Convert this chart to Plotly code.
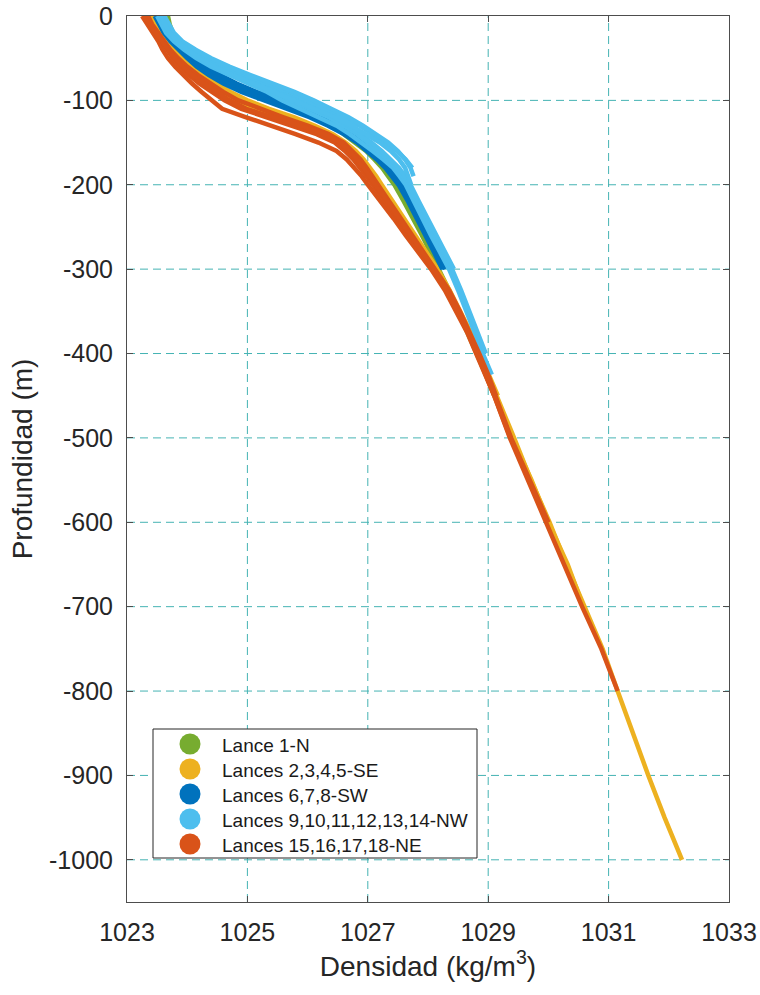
import plotly.graph_objects as go

# ---------------- data ----------------
DEPTH = [0, -10, -20, -30, -40, -50, -60, -70, -80, -90, -100, -110, -120, -130, -140,
         -150, -160, -170, -180, -190, -200, -220, -240, -260, -280, -300, -325, -350,
         -375, -400, -425, -450, -500, -550, -600, -650, -700, -750, -800, -850, -900,
         -950, -1000]

# Lance 1 - N
N1 = [1023.68, 1023.71, 1023.76, 1023.86, 1024.04, 1024.3, 1024.6, 1024.92, 1025.25, 1025.62,
      1026.08, 1026.24, 1026.33, 1026.42, 1026.6, 1026.8, 1026.97, 1027.11, 1027.24, 1027.34,
      1027.44, 1027.6, 1027.76, 1027.9, 1028.04, 1028.18, 1028.35, 1028.5, 1028.66, 1028.81,
      1028.96, 1029.1]

# Lances 2,3,4,5 - SE
SE2 = [1023.4, 1023.47, 1023.57, 1023.67, 1023.78, 1023.9, 1024.05, 1024.22, 1024.42, 1024.64,
       1024.9, 1025.24, 1025.64, 1026.04, 1026.38, 1026.6, 1026.77, 1026.9, 1027.01, 1027.11,
       1027.2, 1027.39, 1027.57, 1027.76, 1027.95, 1028.14, 1028.34, 1028.52, 1028.69, 1028.85,
       1029.0, 1029.15, 1029.43, 1029.71, 1030.02, 1030.3, 1030.6, 1030.9, 1031.15, 1031.4,
       1031.66, 1031.93, 1032.22]
SE3 = [1023.36, 1023.44, 1023.53, 1023.63, 1023.73, 1023.84, 1023.98, 1024.14, 1024.33, 1024.56,
       1024.8, 1025.1, 1025.5, 1025.92, 1026.28, 1026.55, 1026.73, 1026.86, 1026.97, 1027.07,
       1027.16, 1027.35, 1027.54, 1027.73, 1027.92, 1028.11, 1028.31, 1028.5, 1028.67, 1028.83,
       1028.98, 1029.13, 1029.4, 1029.72, 1030.0, 1030.32, 1030.58]
SE4 = [1023.42, 1023.5, 1023.6, 1023.71, 1023.82, 1023.95, 1024.1, 1024.28, 1024.48, 1024.72,
       1025.0, 1025.36, 1025.78, 1026.12, 1026.42, 1026.63, 1026.8, 1026.93, 1027.04, 1027.14,
       1027.23, 1027.42, 1027.6, 1027.79, 1027.97, 1028.16, 1028.36, 1028.54, 1028.71, 1028.86,
       1029.01, 1029.16]
SE5 = [1023.38, 1023.45, 1023.55, 1023.65, 1023.75, 1023.87, 1024.02, 1024.19, 1024.38, 1024.6,
       1024.86, 1025.18, 1025.58, 1026.0, 1026.34, 1026.58, 1026.75, 1026.88, 1026.99, 1027.09,
       1027.18, 1027.37, 1027.56, 1027.75, 1027.94, 1028.12, 1028.32, 1028.51, 1028.68, 1028.84]

# Lances 6,7,8 - SW
SW6 = [1023.46, 1023.53, 1023.61, 1023.72, 1023.85, 1024.0, 1024.16, 1024.36, 1024.6, 1024.9,
       1025.28, 1025.66, 1026.03, 1026.34, 1026.6, 1026.82, 1027.0, 1027.15, 1027.29, 1027.41,
       1027.51, 1027.67, 1027.82, 1027.96, 1028.1, 1028.24]
SW7 = [1023.52, 1023.58, 1023.66, 1023.78, 1023.92, 1024.08, 1024.26, 1024.47, 1024.73, 1025.04,
       1025.45, 1025.8, 1026.12, 1026.42, 1026.67, 1026.88, 1027.06, 1027.21, 1027.34, 1027.45,
       1027.55, 1027.71, 1027.86, 1028.0, 1028.14, 1028.28]
SW8 = [1023.55, 1023.61, 1023.69, 1023.81, 1023.96, 1024.13, 1024.32, 1024.55, 1024.82, 1025.15,
       1025.6, 1025.92, 1026.22, 1026.5, 1026.74, 1026.94, 1027.12, 1027.27, 1027.4, 1027.5,
       1027.6, 1027.75, 1027.89, 1028.03, 1028.17]

# Lances 9..14 - NW
NW9 = [1023.5, 1023.57, 1023.65, 1023.78, 1023.95, 1024.15, 1024.4, 1024.7, 1025.03, 1025.33,
       1025.58, 1025.88, 1026.22, 1026.48, 1026.7, 1026.9, 1027.08, 1027.26, 1027.42, 1027.53,
       1027.63, 1027.77, 1027.9, 1028.05, 1028.2, 1028.35, 1028.5, 1028.63, 1028.77, 1028.91,
       1029.06]
NW10 = [1023.55, 1023.62, 1023.7, 1023.84, 1024.02, 1024.24, 1024.5, 1024.82, 1025.15, 1025.45,
        1025.72, 1026.02, 1026.35, 1026.6, 1026.82, 1027.0, 1027.17, 1027.33, 1027.47, 1027.58,
        1027.68, 1027.82, 1027.96, 1028.1, 1028.25, 1028.4, 1028.55, 1028.68, 1028.82, 1028.96]
NW11 = [1023.6, 1023.66, 1023.74, 1023.88, 1024.07, 1024.3, 1024.56, 1024.88, 1025.22, 1025.55,
        1025.85, 1026.15, 1026.45, 1026.68, 1026.88, 1027.06, 1027.23, 1027.38, 1027.52, 1027.62,
        1027.71, 1027.85, 1027.99, 1028.13, 1028.28, 1028.43]
NW12 = [1023.58, 1023.65, 1023.73, 1023.86, 1024.05, 1024.3, 1024.6, 1024.98, 1025.35, 1025.7,
        1026.0, 1026.3, 1026.6, 1026.86, 1027.08, 1027.3, 1027.48, 1027.63, 1027.74]
NW13 = [1023.62, 1023.7, 1023.78, 1023.92, 1024.14, 1024.4, 1024.7, 1025.05, 1025.42, 1025.78,
        1026.1, 1026.4, 1026.68, 1026.92, 1027.14, 1027.34, 1027.5, 1027.62, 1027.71, 1027.76]
NW14 = [1023.56, 1023.63, 1023.71, 1023.83, 1024.0, 1024.2, 1024.45, 1024.76, 1025.1, 1025.42,
        1025.75, 1026.1, 1026.45, 1026.73, 1026.98, 1027.2, 1027.38, 1027.52, 1027.62, 1027.68,
        1027.72]

# Lances 15,16,17,18 - NE
NE15 = [1023.25, 1023.34, 1023.44, 1023.52, 1023.59, 1023.68, 1023.8, 1023.93, 1024.08, 1024.24,
        1024.4, 1024.58, 1024.98, 1025.4, 1025.8, 1026.18, 1026.48, 1026.65, 1026.78, 1026.9,
        1027.0, 1027.22, 1027.43, 1027.63, 1027.85, 1028.05, 1028.28, 1028.47, 1028.65, 1028.8,
        1028.95, 1029.1, 1029.36, 1029.66, 1029.97, 1030.28, 1030.56, 1030.88, 1031.15]
NE16 = [1023.3, 1023.39, 1023.49, 1023.58, 1023.66, 1023.76, 1023.89, 1024.03, 1024.2, 1024.4,
        1024.62, 1024.9, 1025.3, 1025.75, 1026.15, 1026.45, 1026.62, 1026.76, 1026.88, 1026.98,
        1027.08, 1027.3, 1027.5, 1027.7, 1027.9, 1028.1, 1028.32, 1028.5, 1028.68, 1028.83,
        1028.98, 1029.12, 1029.38, 1029.7, 1030.0]
NE17 = [1023.35, 1023.42, 1023.52, 1023.62, 1023.72, 1023.85, 1024.0, 1024.18, 1024.38, 1024.6,
        1024.85, 1025.2, 1025.6, 1026.0, 1026.35, 1026.6, 1026.75, 1026.88, 1026.98, 1027.08,
        1027.17, 1027.36, 1027.55, 1027.74, 1027.93, 1028.13, 1028.35, 1028.53, 1028.7, 1028.85,
        1029.0, 1029.13]
NE18 = [1023.28, 1023.37, 1023.48, 1023.58, 1023.68, 1023.79, 1023.93, 1024.09, 1024.28, 1024.48,
        1024.7, 1024.98, 1025.45, 1025.88, 1026.28, 1026.54, 1026.7, 1026.82, 1026.93, 1027.03,
        1027.12, 1027.33, 1027.52, 1027.72, 1027.91, 1028.1, 1028.3, 1028.5, 1028.67, 1028.82,
        1028.97, 1029.1, 1029.37]

GROUP_NAMES = ["Lance 1-N", "Lances 2,3,4,5-SE", "Lances 6,7,8-SW",
               "Lances 9,10,11,12,13,14-NW", "Lances 15,16,17,18-NE"]
GROUP_PROFILES = [[N1], [SE2, SE3, SE4, SE5], [SW6, SW7, SW8],
                  [NW9, NW10, NW11, NW12, NW13, NW14], [NE15, NE16, NE17, NE18]]
GROUP_COLORS = ["#77AC30", "#EDB120", "#0072BD", "#4DBEEE", "#D95319"]
X_TICKS = [1023, 1025, 1027, 1029, 1031, 1033]
Y_TICKS = [0, -100, -200, -300, -400, -500, -600, -700, -800, -900, -1000]
X_RANGE = [1023, 1033]
Y_RANGE = [-1050, 0]

# ---------------- figure ----------------
W, H = 760, 995
ML, MR, MT, MB = 127, 31, 16, 93
PW, PH = W - ML - MR, H - MT - MB


def px_to_paper(px, py):
    return (px - ML) / PW, (H - MB - py) / PH


fig = go.Figure()
for name, profiles, color in zip(GROUP_NAMES, GROUP_PROFILES, GROUP_COLORS):
    for prof in profiles:
        fig.add_trace(go.Scatter(
            x=prof, y=DEPTH[:len(prof)], mode="lines", name=name,
            line=dict(color=color, width=4.5), legendgroup=name,
            showlegend=False, hoverinfo="skip"))

TXT = "#262626"
GRID = "#45b3b3"
FONT = "Liberation Sans, Arial, Helvetica, sans-serif"

axis_common = dict(
    showline=True, linecolor="#4d4d4d", linewidth=1, mirror="ticks",
    ticks="inside", ticklen=6, tickcolor="#4d4d4d", tickwidth=1,
    showgrid=False, zeroline=False,
    tickfont=dict(size=25, color=TXT, family=FONT),
    automargin=False,
)

fig.update_xaxes(
    range=X_RANGE, tickvals=X_TICKS, ticktext=[str(v) for v in X_TICKS],
    title=dict(text="Densidad (kg/m<sup>3</sup>)", font=dict(size=28, color=TXT, family=FONT),
               standoff=10),
    ticklabelstandoff=8, **axis_common)
fig.update_yaxes(
    range=Y_RANGE, tickvals=Y_TICKS, ticktext=[str(v) for v in Y_TICKS],
    title=dict(text="Profundidad (m)", font=dict(size=28, color=TXT, family=FONT),
               standoff=8),
    ticklabelstandoff=8, **axis_common)

shapes = []
# dashed teal grid at the tick positions
for xv in X_TICKS[1:-1]:
    shapes.append(dict(type="line", xref="x", yref="y", x0=xv, x1=xv,
                       y0=Y_RANGE[0], y1=Y_RANGE[1], layer="below",
                       line=dict(color=GRID, width=1, dash="8px,5px")))
for yv in Y_TICKS[1:]:
    shapes.append(dict(type="line", xref="x", yref="y", x0=X_RANGE[0], x1=X_RANGE[1],
                       y0=yv, y1=yv, layer="below",
                       line=dict(color=GRID, width=1, dash="8px,5px")))

# ---- legend key (framed box with coloured dots, as in the reference) ----
annotations = []
bx0, by0 = px_to_paper(153, 858)
bx1, by1 = px_to_paper(477, 729)
shapes.append(dict(type="rect", xref="paper", yref="paper", x0=bx0, y0=by0, x1=bx1, y1=by1,
                   line=dict(color="#262626", width=1), fillcolor="white", layer="above"))
row_y = [744, 769, 794, 819, 844]
for name, color, ry in zip(GROUP_NAMES, GROUP_COLORS, row_y):
    cx0, cy0 = px_to_paper(190 - 10.5, ry + 10.5)
    cx1, cy1 = px_to_paper(190 + 10.5, ry - 10.5)
    shapes.append(dict(type="circle", xref="paper", yref="paper", x0=cx0, y0=cy0,
                       x1=cx1, y1=cy1, fillcolor=color, line=dict(color=color, width=0),
                       layer="above"))
    tx, ty = px_to_paper(220, ry + 1)
    annotations.append(dict(text=name, xref="paper", yref="paper", x=tx, y=ty,
                            xanchor="left", yanchor="middle", showarrow=False,
                            font=dict(size=19, color="#1a1a1a", family=FONT)))

fig.update_layout(
    width=W, height=H,
    margin=dict(l=ML, r=MR, t=MT, b=MB),
    paper_bgcolor="white", plot_bgcolor="white",
    font=dict(family=FONT, color=TXT),
    showlegend=False,
    shapes=shapes, annotations=annotations,
)

fig.write_html("out.html")
